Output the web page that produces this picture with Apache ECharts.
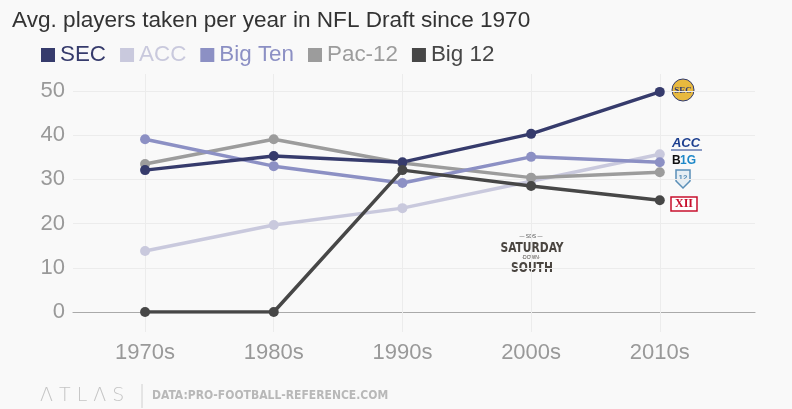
<!DOCTYPE html>
<html><head><meta charset="utf-8">
<script src="https://cdn.jsdelivr.net/npm/echarts@6/dist/echarts.min.js"></script>
<style>html,body{margin:0;padding:0;background:#f9f9f9}#c{width:792px;height:409px}</style>
</head><body><div id="c"></div>
<script>
const categories = ['1970s','1980s','1990s','2000s','2010s'];
const seriesNames = ['SEC','ACC','Big Ten','Pac-12','Big 12'];
const sec    = [32.1, 35.3, 33.9, 40.3, 49.8];
const acc    = [13.8, 19.7, 23.5, 29.6, 35.7];
const bigTen = [39.1, 33.0, 29.2, 35.1, 33.9];
const pac12  = [33.5, 39.1, 33.7, 30.4, 31.6];
const big12  = [0, 0, 32.1, 28.5, 25.3];
const yTicks = [0, 10, 20, 30, 40, 50];

const colors = {'SEC':'#363b6c','ACC':'#c9c9dd','Big Ten':'#8c90c4','Pac-12':'#9c9c9c','Big 12':'#474747'};
const values = {'SEC':sec,'ACC':acc,'Big Ten':bigTen,'Pac-12':pac12,'Big 12':big12};
const drawOrder = ['ACC','Pac-12','Big Ten','SEC','Big 12'];
const catIdx = categories.map((c,i)=>i);

const chart = echarts.init(document.getElementById('c'), null, {renderer:'canvas'});
const FONT = '"Liberation Sans", Arial, sans-serif';
const NARROW = '"Liberation Sans Narrow", "DejaVu Sans Condensed", sans-serif';

const series = drawOrder.map(name => ({
  name, type:'line', xAxisIndex:0, yAxisIndex:0,
  data: values[name].map((v,i)=>[i,v]),
  symbol:'circle', symbolSize:10,
  lineStyle:{width:3.5, color:colors[name]},
  itemStyle:{color:colors[name]},
  emphasis:{disabled:true}, z: 3
}));

chart.setOption({
  backgroundColor:'#f9f9f9',
  animation:false,
  color: seriesNames.map(n=>colors[n]),
  title:{
    text:'Avg. players taken per year in NFL Draft since 1970',
    left:7, top:4,
    textStyle:{fontFamily:FONT, fontSize:22.6, fontWeight:'normal', color:'#333'}
  },
  legend:{
    data: seriesNames.map(n=>({name:n, textStyle:{color:colors[n]}})),
    left:36, top:39, icon:'rect', itemWidth:14, itemHeight:14, itemGap:14,
    textStyle:{fontFamily:FONT, fontSize:22.4},
    selectedMode:false
  },
  grid:{left:73, right:37, top:91, bottom:97, containLabel:false},
  xAxis:[{
    type:'value', min:-0.56, max:4.74,
    axisLine:{show:true, onZero:false, lineStyle:{color:'#aaaaaa', width:1.2}},
    axisTick:{show:true, inside:false, length:20, customValues:catIdx, lineStyle:{color:'#ececec'}},
    axisLabel:{show:true, customValues:catIdx, formatter:v=>categories[Math.round(v)],
      fontFamily:FONT, fontSize:22, color:'#999', margin:30},
    splitLine:{show:false}
  },{
    type:'value', min:-0.56, max:4.74, position:'bottom',
    axisLine:{show:false},
    axisTick:{show:true, inside:true, length:238, customValues:catIdx, lineStyle:{color:'#ececec'}},
    axisLabel:{show:false},
    splitLine:{show:false}
  }],
  yAxis:{
    type:'value', min:yTicks[0], max:yTicks[yTicks.length-1], interval:10,
    axisLine:{show:false}, axisTick:{show:false},
    axisLabel:{fontFamily:FONT, fontSize:22, color:'#999', margin:8},
    splitLine:{lineStyle:{color:'#ececec', width:1}}
  },
  graphic:[
    // logos (decorations)
    {type:'circle', shape:{cx:683, cy:90, r:11}, style:{fill:'#e8b93e', stroke:'#2f3a70', lineWidth:1}},
    {type:'text', x:683, y:91, style:{text:'SEC', fill:'#2f3a70', font:'bold 9px "Liberation Serif", serif', align:'center', verticalAlign:'middle'}},
    {type:'text', x:686, y:143, style:{text:'ACC', fill:'#1d3f8f', font:'italic bold 13px "Liberation Sans", sans-serif', align:'center', verticalAlign:'middle'}},
    {type:'line', shape:{x1:671, y1:150, x2:702, y2:150}, style:{stroke:'#1d3f8f', lineWidth:1}},
    {type:'text', x:672, y:161, style:{text:'B', fill:'#111', font:'bold 12px "Liberation Sans", sans-serif', verticalAlign:'middle'}},
    {type:'text', x:680, y:161, style:{text:'1G', fill:'#1e88c8', font:'bold 12px "Liberation Sans", sans-serif', verticalAlign:'middle'}},
    {type:'polygon', shape:{points:[[676,170],[690,170],[690,181],[683,188],[676,181]]}, style:{fill:'#e6eef4', stroke:'#5a8fb8', lineWidth:1.5}},
    {type:'text', x:683, y:178, style:{text:'12', fill:'#5a8fb8', font:'bold 8px "Liberation Sans", sans-serif', align:'center', verticalAlign:'middle'}},
    {type:'rect', shape:{x:671, y:197, width:26, height:14}, style:{fill:'#fff', stroke:'#c8102e', lineWidth:1.5}},
    {type:'text', x:684, y:204, style:{text:'XII', fill:'#c8102e', font:'bold 12px "Liberation Serif", serif', align:'center', verticalAlign:'middle'}},
    // watermark
    {type:'text', x:531, y:237, style:{text:'— SDS —', fill:'#555', font:'5px "Liberation Sans", sans-serif', align:'center', verticalAlign:'middle'}},
    {type:'text', x:532, y:248, scaleX:0.85, originX:0, style:{text:'SATURDAY', fill:'#4a4540', font:'bold 14px ' + NARROW, align:'center', verticalAlign:'middle'}},
    {type:'text', x:531, y:258, style:{text:'·DOWN·', fill:'#4a4540', font:'5px "Liberation Sans", sans-serif', align:'center', verticalAlign:'middle'}},
    {type:'text', x:532, y:268, scaleX:0.85, originX:0, style:{text:'SOUTH', fill:'#4a4540', font:'bold 14px ' + NARROW, align:'center', verticalAlign:'middle'}},
    // footer
    {type:'text', x:40, y:396, style:{text:'Λ T L Λ S', fill:'#c4c4c4', font:'300 19px "DejaVu Sans", sans-serif', verticalAlign:'middle'}},
    {type:'line', shape:{x1:142, y1:384, x2:142, y2:408}, style:{stroke:'#d0d0d0', lineWidth:1}},
    {type:'text', x:152, y:396, style:{text:'DATA:PRO-FOOTBALL-REFERENCE.COM', fill:'#b8b8b8', font:'bold 12px ' + NARROW, verticalAlign:'middle'}}
  ],
  series
});
</script></body></html>
